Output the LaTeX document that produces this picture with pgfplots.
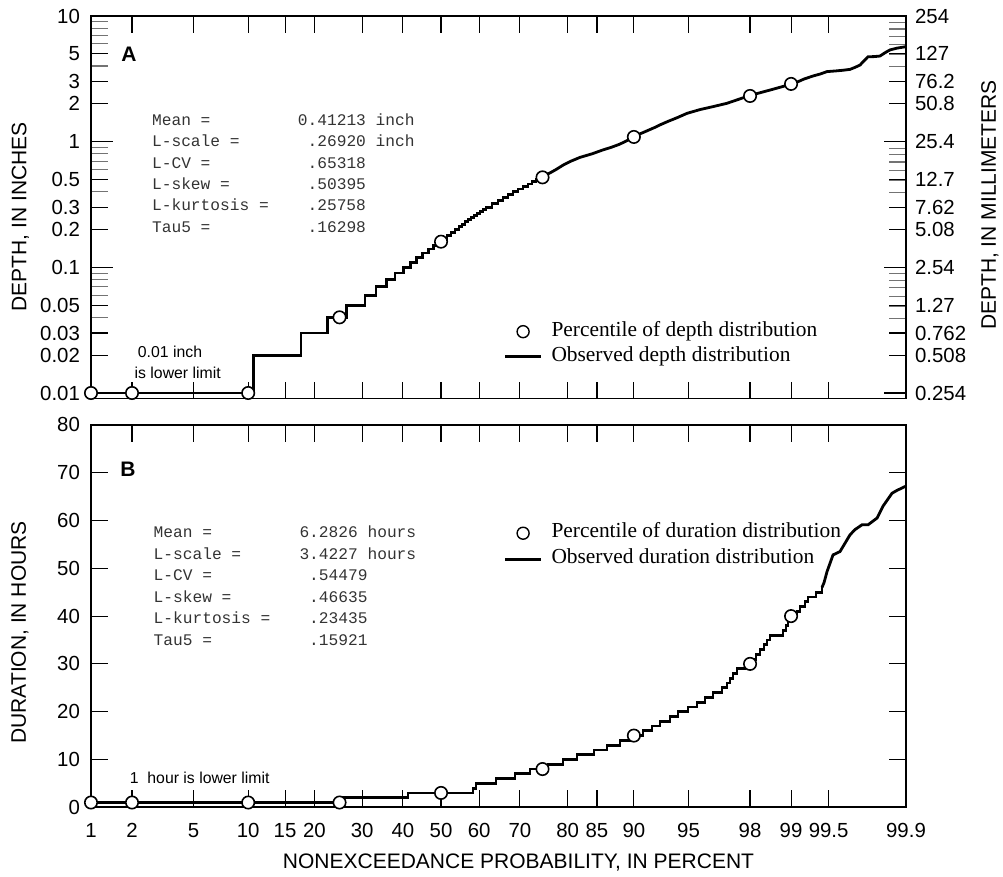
\documentclass[border=0pt]{standalone}
\usepackage{fontspec}
\setmainfont{Liberation Sans}
\setmonofont{Liberation Mono}
\newfontfamily\legendfont{Liberation Serif}
\usepackage{pgfplots}
\pgfplotsset{compat=1.18}

\pgfplotstableread{
z v
-2.3263 0.01
-1.2474 0.02
-0.9304 0.03
-0.7530 0.04
-0.6267 0.05
-0.5051 0.06
-0.4320 0.07
-0.3609 0.08
-0.3057 0.09
-0.2505 0.10
-0.2014 0.11
-0.1615 0.12
-0.1216 0.13
-0.0844 0.14
-0.0498 0.15
-0.0166 0.16
0.0133 0.17
0.0399 0.18
0.0665 0.19
0.0930 0.20
0.1196 0.21
0.1396 0.22
0.1595 0.23
0.1794 0.24
0.1994 0.25
0.2193 0.26
0.2393 0.27
0.2592 0.28
0.2791 0.29
0.2991 0.30
0.3389 0.32
0.3788 0.34
0.4120 0.36
0.4453 0.38
0.4785 0.40
0.5117 0.42
0.5450 0.44
0.5782 0.46
0.6048 0.48
0.6314 0.50
0.6579 0.52
}\depthstairs

\pgfplotstableread{
z v
0.6579 0.52
0.6912 0.54
0.7310 0.57
0.7643 0.60
0.8108 0.65
0.8640 0.70
0.9238 0.75
1.0035 0.80
1.0766 0.86
1.1298 0.90
1.1830 0.95
1.2228 1.00
1.2561 1.05
1.2826 1.10
1.3557 1.20
1.4222 1.30
1.4554 1.36
1.5086 1.45
1.5684 1.55
1.6349 1.68
1.7213 1.80
1.8077 1.90
1.9007 2.02
1.9672 2.15
2.0469 2.32
2.1200 2.45
2.1998 2.60
2.2729 2.75
2.3260 2.86
2.3726 3.00
2.4124 3.15
2.4723 3.33
2.5188 3.45
2.5653 3.61
2.6185 3.65
2.6716 3.70
2.7181 3.76
2.7514 3.90
2.7846 4.07
2.8112 4.40
2.8378 4.74
2.8777 4.75
2.9175 4.80
2.9507 5.10
2.9840 5.37
3.0305 5.55
3.0903 5.70
}\depthline

\pgfplotstableread{
z v
-2.3263 0.01
-2.0537 0.01
-1.2816 0.01
-0.6745 0.04
0 0.16
0.6745 0.52
1.2816 1.09
2.0537 2.31
2.3263 2.88
}\depthpct

\pgfplotstableread{
z v
-2.3263 1
-0.6513 2
-0.2193 3
0.2127 4
0.2326 5
0.3655 6
0.4918 7
0.5915 8
0.7111 9
0.8108 10
0.9038 11
1.0168 12
1.1032 13
1.1896 14
1.2561 15
1.3425 16
1.4023 17
1.4554 18
1.5219 19
1.5751 20
1.6415 21
1.7013 22
1.7545 23
1.8077 24
1.8675 25
1.9007 26
1.9207 27
1.9406 28
1.9672 29
2.0203 30
2.0669 31
2.0934 32
2.1200 33
2.1466 34
2.1665 35
2.1865 36
2.2729 37
2.2928 38
2.3061 39
2.3194 40
2.3659 41
2.3859 42
2.4191 43
2.4390 44
2.4922 45
2.5321 46
}\durstairs

\pgfplotstableread{
z v
2.5321 46
2.5454 47
2.5653 49.3
2.6052 52.8
2.6517 53.5
2.7181 57.0
2.7514 58.1
2.7979 59.1
2.8378 59.1
2.8976 60.5
2.9375 63.0
2.9973 65.7
3.0305 66.3
3.0903 67.2
}\durline

\pgfplotstableread{
z v
-2.3263 1
-2.0537 1
-1.2816 1
-0.6745 1
0 3
0.6745 8
1.2816 15
2.0537 30
2.3263 40
}\durpct

\pgfplotsset{
  probstyle/.style={
    scale only axis, width=407.5pt,
    xmin=-2.3263, xmax=3.0902,
    xtick={-2.3263,-2.0537,-1.6449,-1.2816,-1.0364,-0.8416,-0.5244,-0.2533,0,0.2533,0.5244,0.8416,1.0364,1.2816,1.6449,2.0537,2.3263,2.5758,3.0902},
    tick align=inside,
    major tick length=8.5pt, minor tick length=8.5pt,
    axis line style={line width=0.9pt},
    tick style={black, line width=0.55pt},
    minor tick style={black!55, line width=0.55pt},
    ticklabel style={font=\fontsize{10.2}{12}\selectfont},
    clip=false,
    legend cell align=left,
  },
  datastyle/.style={black, line width=1.4pt, forget plot},
  pctstyle/.style={only marks, mark=*, mark size=3.1pt, mark options={fill=white, draw=black, line width=0.8pt}, forget plot},
  legmark/.style={only marks, mark=*, mark size=3pt, mark options={fill=white, draw=black, line width=0.7pt},
    legend image code/.code={\draw[##1] plot coordinates {(9pt,0pt)};}},
  legline/.style={black, line width=1.4pt,
    legend image code/.code={\draw[##1] (0pt,0pt) -- (18pt,0pt);}},
}

\begin{document}
\begin{tikzpicture}
\useasboundingbox (0,0) rectangle (501.5pt,438.5pt);

% ---------- Panel A ----------
\begin{axis}[probstyle,
  at={(45.5pt,239.25pt)}, anchor=south west, height=191.25pt,
  ymode=log, ymin=0.009042, ymax=10,
  ytick={0.01,0.02,0.03,0.05,0.1,0.2,0.3,0.5,1,2,3,5,10},
  yticklabels={0.01,0.02,0.03,0.05,0.1,0.2,0.3,0.5,1,2,3,5,10},
  minor ytick={0.04,0.06,0.07,0.08,0.09,0.4,0.6,0.7,0.8,0.9,4,6,7,8,9},
  ytick pos=left, xtick pos=both, xticklabels={},
  extra y ticks={0.1,1}, extra y tick labels={},
  extra y tick style={major tick length=11pt, ytick pos=left},
  yticklabel style={xshift=-2pt},
  legend style={at={(0.5059,0.1420)}, anchor=west, draw=none, fill=none,
    inner sep=0pt, row sep=3pt, column sep=4.5pt,
    font=\legendfont\fontsize{10.7}{12}\selectfont,
    nodes={inner sep=0pt, text height=7pt, text depth=2.5pt}},
]
\addplot[datastyle, const plot] table[x=z,y=v] {\depthstairs};
\addplot[datastyle, sharp plot] table[x=z,y=v] {\depthline};
\addplot[pctstyle] table[x=z,y=v] {\depthpct};
\addlegendimage{legmark}
\addlegendentry{Percentile of depth distribution}
\addlegendimage{legline}
\addlegendentry{Observed depth distribution}
\end{axis}

% right-hand millimetre scale of panel A
\begin{axis}[scale only axis, width=407.5pt, height=191.25pt,
  at={(45.5pt,239.25pt)}, anchor=south west,
  xmin=-2.3263, xmax=3.0902, hide x axis, axis y line*=right,
  ymode=log, ymin=0.22967, ymax=254,
  tick align=inside, major tick length=8.5pt, minor tick length=8.5pt,
  axis line style={line width=0.9pt},
  tick style={black, line width=0.55pt},
  minor tick style={black!55, line width=0.55pt},
  ytick={0.254,0.508,0.762,1.27,2.54,5.08,7.62,12.7,25.4,50.8,76.2,127,254},
  yticklabels={0.254,0.508,0.762,1.27,2.54,5.08,7.62,12.7,25.4,50.8,76.2,127,254},
  minor ytick={1,1.25,1.5,1.75,2,2.25,10,12.5,15,17.5,20,22.5,100,125,150,175,200,225},
  extra y ticks={0.254,2.54,25.4}, extra y tick labels={},
  extra y tick style={major tick length=11pt},
  ticklabel style={font=\fontsize{10.2}{12}\selectfont},
  yticklabel style={xshift=1pt},
]
\end{axis}

% ---------- Panel B ----------
\begin{axis}[probstyle,
  at={(45.5pt,34.85pt)}, anchor=south west, height=191.2pt,
  ymin=0, ymax=80, ytick={0,10,20,30,40,50,60,70,80},
  yticklabels={0,10,20,30,40,50,60,70,80},
  ytick pos=both, yticklabel pos=left, xtick pos=both, xticklabel pos=bottom,
  xticklabels={1,2,5,10,15,20,30,40,50,60,70,80,85,90,95,98,99,99.5,99.9},
  yticklabel style={xshift=-2pt},
  xticklabel style={yshift=-4.5pt},
  legend style={at={(0.5059,0.6827)}, anchor=west, draw=none, fill=none,
    inner sep=0pt, row sep=3.5pt, column sep=4.5pt,
    font=\legendfont\fontsize{10.7}{12}\selectfont,
    nodes={inner sep=0pt, text height=7pt, text depth=2.5pt}},
]
\addplot[datastyle, const plot] table[x=z,y=v] {\durstairs};
\addplot[datastyle, sharp plot] table[x=z,y=v] {\durline};
\addplot[pctstyle] table[x=z,y=v] {\durpct};
\addlegendimage{legmark}
\addlegendentry{Percentile of duration distribution}
\addlegendimage{legline}
\addlegendentry{Observed duration distribution}
\end{axis}

% ---------- text in pixel coordinates ----------
\begin{scope}[x=0.5pt, y=-0.5pt, yshift=438.5pt]
\node[font=\bfseries\fontsize{10.5}{12}\selectfont] at (129,54) {A};
\node[font=\bfseries\fontsize{10.5}{12}\selectfont] at (128,469) {B};

\begin{scope}[every node/.style={anchor=base west, inner sep=0pt, font=\ttfamily\fontsize{8.1}{10}\selectfont, text=black!80}]
\node at (151.7,125.4) {Mean =\ \ \ \ \ \ \ \ \ 0.41213 inch};
\node at (151.7,146.8) {L-scale =\ \ \ \ \ \ \ .26920 inch};
\node at (151.7,168.2) {L-CV =\ \ \ \ \ \ \ \ \ \ .65318};
\node at (151.7,189.6) {L-skew =\ \ \ \ \ \ \ \ .50395};
\node at (151.7,211.0) {L-kurtosis =\ \ \ \ .25758};
\node at (151.7,232.4) {Tau5 =\ \ \ \ \ \ \ \ \ \ .16298};

\node at (153.3,538.0) {Mean =\ \ \ \ \ \ \ \ \ 6.2826 hours};
\node at (153.3,559.5) {L-scale =\ \ \ \ \ \ 3.4227 hours};
\node at (153.3,581.0) {L-CV =\ \ \ \ \ \ \ \ \ \ .54479};
\node at (153.3,602.5) {L-skew =\ \ \ \ \ \ \ \ .46635};
\node at (153.3,624.0) {L-kurtosis =\ \ \ \ .23435};
\node at (153.3,645.5) {Tau5 =\ \ \ \ \ \ \ \ \ \ .15921};
\end{scope}

\node[font=\fontsize{7.9}{9}\selectfont] at (170,351.7) {0.01 inch};
\node[font=\fontsize{7.9}{9}\selectfont] at (177.7,372.7) {is lower limit};
\node[font=\fontsize{7.9}{9}\selectfont] at (199.7,777.7) {1\ \ hour is lower limit};

\node[rotate=90, font=\fontsize{10.5}{12}\selectfont] at (20.5,217) {DEPTH, IN INCHES};
\node[rotate=90, font=\fontsize{10.5}{12}\selectfont] at (20,632.5) {DURATION, IN HOURS};
\node[rotate=90, font=\fontsize{10.5}{12}\selectfont] at (990,205) {DEPTH, IN MILLIMETERS};
\node[font=\fontsize{10.5}{12}\selectfont] at (518.5,863) {NONEXCEEDANCE PROBABILITY, IN PERCENT};
\end{scope}
\end{tikzpicture}
\end{document}
